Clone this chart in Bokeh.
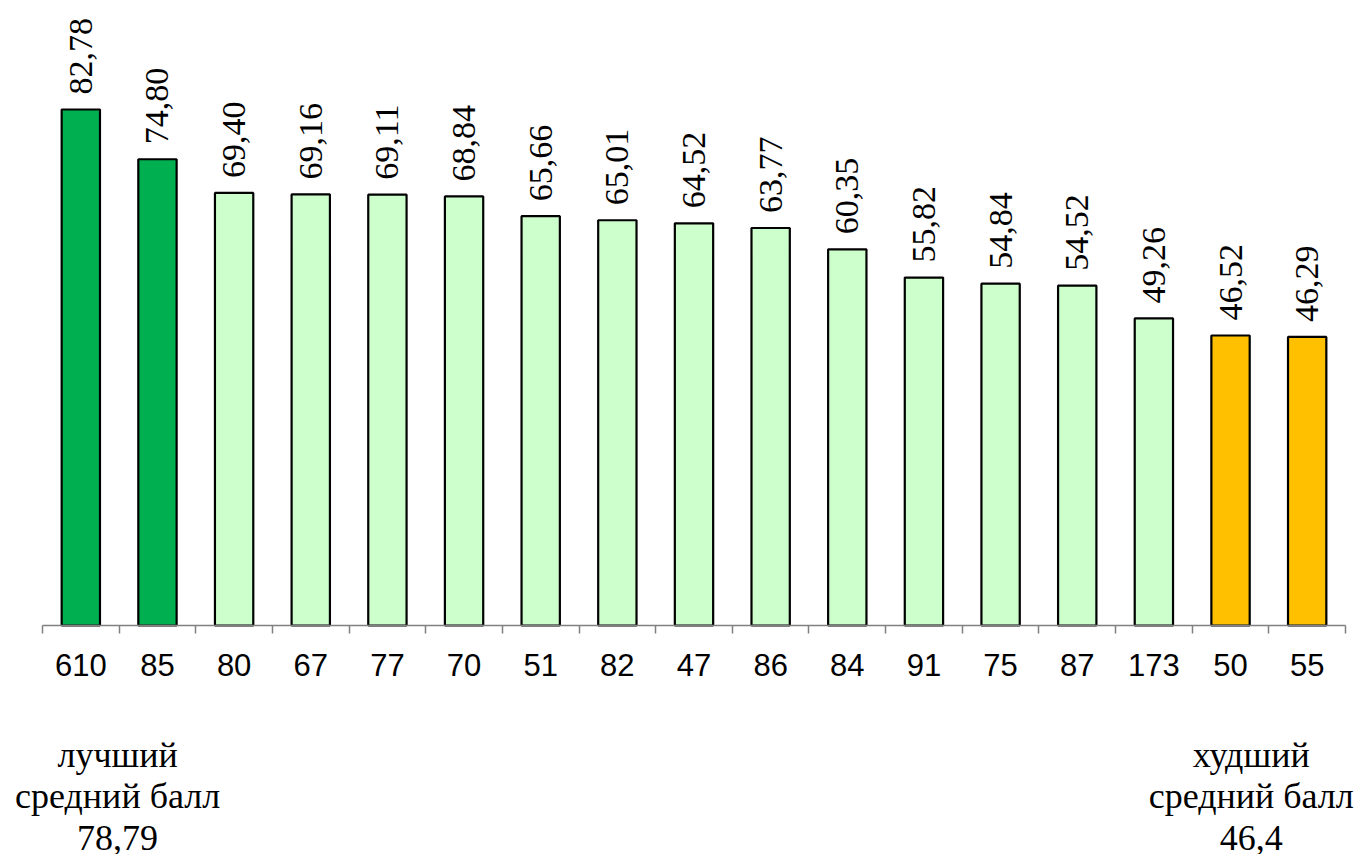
import math
from bokeh.plotting import figure
from bokeh.models import ColumnDataSource, LabelSet, Label, Range1d, FixedTicker
from bokeh.embed import file_html
from bokeh.resources import INLINE

categories = ["610", "85", "80", "67", "77", "70", "51", "82", "47", "86",
              "84", "91", "75", "87", "173", "50", "55"]
values = [82.78, 74.80, 69.40, 69.16, 69.11, 68.84, 65.66, 65.01, 64.52, 63.77,
          60.35, 55.82, 54.84, 54.52, 49.26, 46.52, 46.29]
groups = ["best", "best"] + ["mid"] * 13 + ["worst", "worst"]
group_colors = {"best": "#00B050", "mid": "#CCFFCC", "worst": "#FFC000"}

best_lines = ["лучший", "средний балл", "78,79"]
worst_lines = ["худший", "средний балл", "46,4"]

n = len(categories)
xs = [i + 0.5 for i in range(n)]
source = ColumnDataSource(dict(
    x=xs,
    top=values,
    color=[group_colors[g] for g in groups],
    label=[f"{v:.2f}".replace(".", ",") for v in values],
))

W, H = 1360, 854
left_px, right_px = 42, 15
ppx = (W - left_px - right_px) / n
base_px = 625          # pixel row of the zero line
ppu = 516 / 82.78      # pixels per data unit
y_top = base_px / ppu
y_bot = -(H - base_px) / ppu

p = figure(width=W, height=H, output_backend="svg", toolbar_location=None,
           x_range=Range1d(-left_px / ppx, n + right_px / ppx),
           y_range=Range1d(y_bot, y_top),
           min_border_left=0, min_border_right=0, min_border_top=0,
           min_border_bottom=0)
p.outline_line_color = None
p.grid.visible = False
p.yaxis.visible = False
p.background_fill_color = "white"
p.border_fill_color = "white"

p.vbar(x="x", top="top", width=0.5, bottom=0, source=source,
       fill_color="color", line_color="black", line_width=2.2)

SANS = "Liberation Sans"
SERIF = "Liberation Serif"

labels = LabelSet(x="x", y="top", text="label", source=source,
                  angle=math.pi / 2, text_align="left", text_baseline="middle",
                  y_offset=15, text_font=SANS, text_font_size="34px",
                  text_color="black")
p.add_layout(labels)

ax = p.xaxis[0]
ax.fixed_location = 0
ax.bounds = (0, n)
ax.ticker = FixedTicker(ticks=xs, minor_ticks=list(range(n + 1)))
ax.major_label_overrides = {x: c for x, c in zip(xs, categories)}
ax.major_tick_line_color = None
ax.major_tick_out = 0
ax.major_tick_in = 0
ax.minor_tick_line_color = "#808080"
ax.minor_tick_line_width = 1.5
ax.minor_tick_out = 8
ax.minor_tick_in = 0
ax.axis_line_color = "#808080"
ax.axis_line_width = 1.5
ax.major_label_standoff = 20
ax.major_label_text_font = SANS
ax.major_label_text_font_size = "31px"
ax.major_label_text_color = "black"

def y_at(page_baseline):
    return (base_px - page_baseline) / ppu

baselines = [754, 795, 837]
for lines, cx in ((best_lines, 0.98), (worst_lines, 15.77)):
    for txt, b in zip(lines, baselines):
        p.add_layout(Label(x=cx, y=y_at(b), text=txt, text_align="center",
                           text_baseline="alphabetic", text_font=SERIF,
                           text_font_size="36px", text_color="black"))

open("out.html", "w").write(file_html(p, INLINE))
